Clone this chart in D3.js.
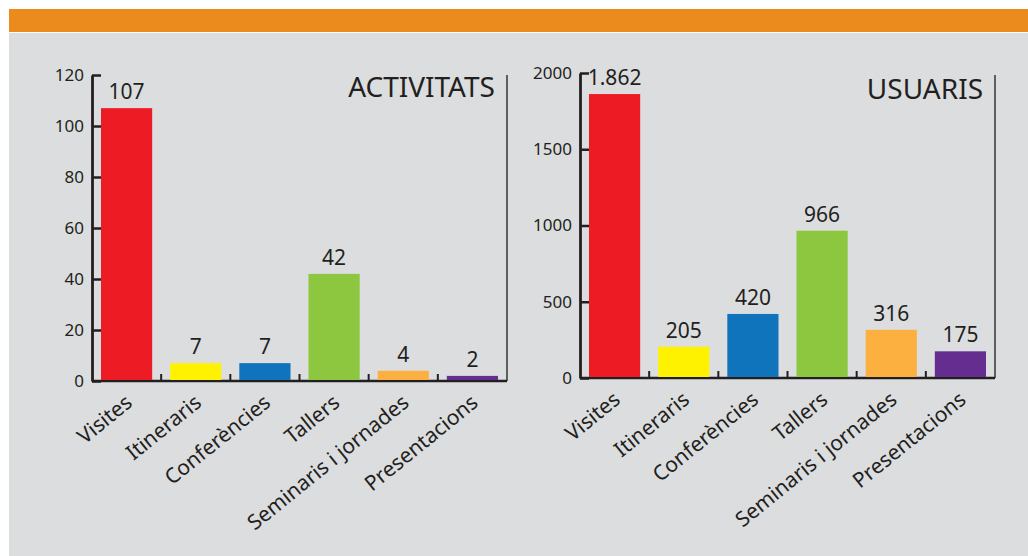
<!DOCTYPE html>
<html>
<head>
<meta charset="utf-8">
<script src="https://cdn.jsdelivr.net/npm/d3@7"></script>
<style>
  body { margin: 0; background: #fff; }
  svg { display: block; font-family: "Noto Sans", "Open Sans", sans-serif; }
</style>
</head>
<body>
<svg id="chart" width="1028" height="556"></svg>
<script>
// data
var categories = ["Visites", "Itineraris", "Conferències", "Tallers", "Seminaris i jornades", "Presentacions"];
var activitats = [107, 7, 7, 42, 4, 2];
var usuaris = [1862, 205, 420, 966, 316, 175];
var barColors = ["#ed1c24", "#fff200", "#1074bc", "#8dc63f", "#fbb040", "#662d91"];
var activitatsTicks = [0, 20, 40, 60, 80, 100, 120];
var usuarisTicks = [0, 500, 1000, 1500, 2000];

var svg = d3.select("#chart");

// background panels
svg.append("rect").attr("x", 9).attr("y", 9).attr("width", 1019).attr("height", 23).attr("fill", "#ec8b1d");
svg.append("rect").attr("x", 9).attr("y", 33).attr("width", 1019).attr("height", 523).attr("fill", "#dcdddf");

var ca = d3.formatLocale({decimal: ",", thousands: ".", grouping: [3], currency: ["", " €"]});
var fmt = ca.format(",d");

function drawPanel(opts) {
  var g = svg.append("g");
  var x = d3.scaleBand()
    .domain(categories)
    .range([opts.x0, opts.x1])
    .paddingInner(0.26)
    .paddingOuter(0.13);
  var y = d3.scaleLinear().domain([0, opts.max]).range([opts.y0, opts.yTop]);
  var step = x.step();

  // right border
  g.append("line")
    .attr("x1", opts.x1).attr("x2", opts.x1)
    .attr("y1", 75).attr("y2", opts.y0)
    .attr("stroke", "#333").attr("stroke-width", 1.5);

  // baseline + small ticks between bars
  g.append("line")
    .attr("x1", opts.x0).attr("x2", opts.x1)
    .attr("y1", opts.y0).attr("y2", opts.y0)
    .attr("stroke", "#231f20").attr("stroke-width", 2.5);
  g.selectAll(".xtick")
    .data(categories.slice(1))
    .enter().append("line")
    .attr("x1", function(d) { return x(d) - step * 0.13; })
    .attr("x2", function(d) { return x(d) - step * 0.13; })
    .attr("y1", opts.y0).attr("y2", opts.y0 - 7)
    .attr("stroke", "#231f20").attr("stroke-width", 2);

  // y axis, ticks pointing inside
  var yAxis = d3.axisLeft(y).tickValues(opts.ticks).tickSize(-9).tickSizeOuter(0).tickPadding(8).tickFormat(d3.format("d"));
  var ya = g.append("g").attr("transform", "translate(" + opts.x0 + ",0)").call(yAxis);
  ya.select(".domain").attr("stroke", "#231f20").attr("stroke-width", 2.8);
  ya.selectAll(".tick line").attr("stroke", "#231f20").attr("stroke-width", 2.5);
  ya.selectAll(".tick text").attr("fill", "#231f20").attr("font-size", 17).attr("font-family", "Noto Sans");

  // bars
  g.selectAll(".bar")
    .data(opts.values)
    .enter().append("rect")
    .attr("x", function(d, i) { return x(categories[i]); })
    .attr("width", x.bandwidth())
    .attr("y", function(d) { return y(d); })
    .attr("height", function(d) { return opts.y0 - 1 - y(d); })
    .attr("fill", function(d, i) { return barColors[i]; });

  // value labels
  g.selectAll(".val")
    .data(opts.values)
    .enter().append("text")
    .attr("x", function(d, i) { return x(categories[i]) + x.bandwidth() / 2; })
    .attr("y", function(d) { return y(d) - 9; })
    .attr("text-anchor", "middle")
    .attr("font-size", 21)
    .attr("fill", "#231f20")
    .text(function(d) { return fmt(d); });

  // rotated category labels
  g.selectAll(".cat")
    .data(categories)
    .enter().append("text")
    .attr("transform", function(d) {
      return "translate(" + (x(d) + x.bandwidth() / 2 + 7) + "," + (opts.y0 + 24) + ") rotate(-39)";
    })
    .attr("text-anchor", "end")
    .attr("font-size", 21)
    .attr("fill", "#231f20")
    .text(function(d) { return d; });

  // panel title
  g.append("text")
    .attr("x", opts.x1 - 12)
    .attr("y", opts.titleY)
    .attr("text-anchor", "end")
    .attr("font-size", 28)
    .attr("fill", "#231f20")
    .text(opts.title);
}

drawPanel({x0: 92, x1: 507, y0: 381, yTop: 75, max: 120, ticks: activitatsTicks, values: activitats, title: "ACTIVITATS", titleY: 97});
drawPanel({x0: 580, x1: 995, y0: 378, yTop: 73, max: 2000, ticks: usuarisTicks, values: usuaris, title: "USUARIS", titleY: 99});
</script>
</body>
</html>
